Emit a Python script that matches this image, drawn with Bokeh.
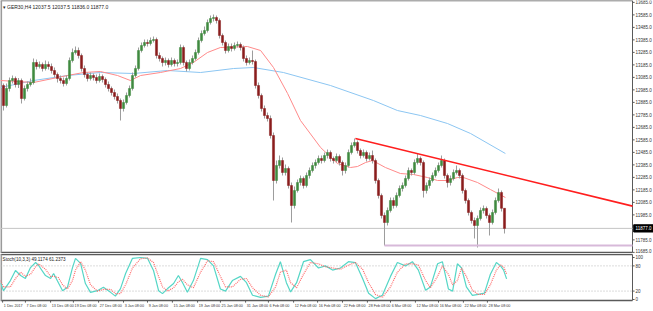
from bokeh.plotting import figure
from bokeh.models import Range1d
from bokeh.layouts import column
from bokeh.core.properties import value
from bokeh.embed import file_html
from bokeh.resources import INLINE

# ---------------- data ----------------
first_open = 13020
close = [12860, 12996, 13060, 13076, 13028, 13060, 12916, 12996, 13028, 13044,
         13204, 13172, 13188, 13156, 13188, 13172, 13140, 13108, 13076, 13060,
         13036, 13076, 13220, 13284, 13300, 13260, 13156, 13108, 13076, 13100,
         13084, 13060, 13092, 13068, 13028, 12996, 12964, 12932, 12900, 12836,
         12884, 12940, 12996, 13100, 13156, 13300, 13340, 13364, 13356, 13380,
         13388, 13260, 13236, 13204, 13220, 13188, 13220, 13196, 13204, 13324,
         13204, 13156, 13204, 13236, 13284, 13380, 13436, 13460, 13524, 13556,
         13564, 13540, 13420, 13364, 13300, 13332, 13316, 13340, 13348, 13324,
         13236, 13204, 13220, 13212, 13020, 12940, 12836, 12780, 12756, 12620,
         12260, 12380, 12420, 12324, 12356, 12220, 12060, 12180, 12244, 12276,
         12220, 12300, 12340, 12380, 12404, 12436, 12420, 12460, 12484, 12436,
         12420, 12452, 12404, 12340, 12380, 12484, 12540, 12564, 12500, 12460,
         12484, 12436, 12460, 12420, 12260, 12140, 11980, 11924, 12020, 12100,
         12060, 12140, 12196, 12220, 12276, 12340, 12324, 12404, 12436, 12404,
         12180, 12220, 12260, 12300, 12340, 12380, 12420, 12300, 12244, 12276,
         12324, 12340, 12300, 12180, 12100, 12004, 11940, 11900, 11956, 12020,
         12036, 11980, 11924, 12004, 12100, 12164, 12037.5, 11877]
high = [13036, 13036, 13084, 13100, 13092, 13080, 13076, 13020, 13052, 13076,
        13236, 13228, 13212, 13204, 13220, 13212, 13196, 13164, 13124, 13100,
        13084, 13100, 13244, 13316, 13332, 13324, 13276, 13180, 13124, 13124,
        13116, 13108, 13116, 13108, 13084, 13052, 13012, 12988, 12956, 12916,
        12908, 12964, 13020, 13124, 13180, 13324, 13364, 13388, 13388, 13404,
        13412, 13404, 13284, 13252, 13244, 13236, 13244, 13236, 13228, 13348,
        13340, 13220, 13228, 13260, 13308, 13404, 13460, 13492, 13548, 13580,
        13588, 13580, 13556, 13436, 13380, 13356, 13356, 13364, 13372, 13364,
        13340, 13260, 13244, 13300, 13228, 13044, 12956, 12860, 12804, 12780,
        12644, 12420, 12460, 12444, 12388, 12372, 12244, 12212, 12268, 12300,
        12292, 12324, 12364, 12404, 12428, 12460, 12460, 12484, 12508, 12500,
        12452, 12476, 12468, 12420, 12404, 12508, 12564, 12596, 12580, 12516,
        12508, 12500, 12484, 12500, 12436, 12276, 12156, 12004, 12044, 12124,
        12124, 12164, 12220, 12244, 12300, 12364, 12356, 12428, 12476, 12452,
        12420, 12244, 12284, 12324, 12364, 12404, 12460, 12436, 12316, 12300,
        12348, 12380, 12356, 12316, 12196, 12116, 12020, 11964, 11980, 12044,
        12060, 12052, 11996, 12028, 12124, 12196, 12180, 12037.5]
low = [12820, 12844, 12972, 13036, 13004, 13000, 12876, 12900, 12972, 13012,
       13028, 13148, 13156, 13132, 13140, 13148, 13116, 13084, 13044, 13036,
       13012, 13020, 13060, 13204, 13268, 13236, 13132, 13084, 13052, 13060,
       13060, 13036, 13044, 13044, 13004, 12972, 12940, 12908, 12876, 12740,
       12812, 12868, 12924, 12980, 13084, 13140, 13284, 13324, 13332, 13340,
       13364, 13236, 13212, 13172, 13180, 13164, 13172, 13172, 13172, 13188,
       13180, 13132, 13140, 13188, 13220, 13268, 13364, 13420, 13444, 13508,
       13532, 13516, 13396, 13340, 13276, 13284, 13292, 13300, 13324, 13300,
       13212, 13180, 13188, 13188, 12996, 12916, 12812, 12756, 12732, 12596,
       12100, 12236, 12356, 12300, 12300, 12196, 11924, 12036, 12164, 12220,
       12196, 12204, 12276, 12324, 12356, 12388, 12396, 12404, 12436, 12412,
       12396, 12404, 12380, 12300, 12316, 12364, 12468, 12524, 12476, 12436,
       12444, 12412, 12420, 12396, 12236, 12116, 11956, 11740, 11900, 12004,
       12036, 12044, 12124, 12172, 12204, 12260, 12300, 12308, 12388, 12380,
       12124, 12156, 12196, 12244, 12284, 12324, 12364, 12276, 12204, 12220,
       12260, 12308, 12276, 12156, 12076, 11980, 11916, 11796, 11724, 11940,
       11996, 11956, 11820, 11908, 11988, 12084, 12012, 11836]

red_ma_x = [-1, 10, 21.3, 26.7, 32.3, 38, 42.3, 45.7, 52.3, 59, 63.3, 68, 72.3, 81.3, 85.7, 90,
            94.7, 99, 105.7, 111.3, 115.7, 118, 120.7, 123, 127.3, 132.3, 136.7, 141.3, 144.7,
            148, 151.3, 153.3, 158, 162.3, 167.3]
red_ma_y = [13060, 13044, 13100, 13124, 13132, 13100, 13060, 13100, 13124, 13156, 13204, 13284,
            13324, 13332, 13300, 13164, 12956, 12740, 12524, 12396, 12364, 12372, 12404, 12420,
            12364, 12316, 12308, 12284, 12260, 12260, 12284, 12284, 12244, 12188, 12124]
blue_ma_x = [-1, 10, 21.3, 32.3, 43.3, 54.7, 65.7, 76.7, 83.3, 93.3, 109, 123.3, 131.3, 139,
             148, 155.7, 167.3]
blue_ma_y = [13004, 13060, 13100, 13124, 13116, 13140, 13124, 13156, 13164, 13124, 13020,
             12900, 12820, 12780, 12716, 12636, 12476]

trend_x = [117.3, 209.7]
trend_y = [12596, 12055]
support_x = [127, 209.7]
support_y = [11740, 11740]
last_price = 11877
last_price_text = "11877.0"

stoch_x = [-1, 0, 2.3, 4, 5.7, 7.3, 9, 10.7, 11.7, 14, 15.7, 16.7, 18.3, 19.7, 21.3, 23, 24,
           25.7, 27.3, 29, 31.3, 33.3, 35.7, 37.3, 39, 40.7, 43, 45.7, 48, 50, 51.7, 53, 54.7,
           56.7, 58.3, 59.7, 61.3, 63.3, 65.7, 68, 70, 72.3, 74, 76.3, 79, 81, 83, 85.7, 88.3,
           90.7, 92.3, 94.3, 95.7, 97.7, 100, 102.3, 105, 107.3, 109.7, 112.3, 115, 117.3,
           119.7, 121.7, 124, 126.3, 129, 131.3, 134, 136.3, 138.3, 140.7, 142.3, 144.7,
           146.3, 148.3, 149.7, 151.3, 152.7, 154.3, 156.3, 158.3, 160.3, 162.3, 164.3,
           165.7, 166.7, 167.7]
stoch_k = [40, 21, 45, 69, 57, 50, 76, 88, 81, 57, 50, 62, 40, 21, 29, 76, 98, 86, 38, 17,
           21, 29, 17, 8, 26, 62, 98, 100, 98, 69, 21, 14, 26, 38, 57, 40, 17, 45, 98, 95,
           80, 25, 20, 45, 55, 40, 10, 5, 8, 60, 90, 40, 18, 40, 90, 95, 75, 80, 70, 75,
           90, 88, 50, 15, 2, 10, 55, 88, 80, 90, 70, 22, 30, 85, 90, 25, 20, 85, 75, 30,
           10, 12, 15, 60, 88, 80, 70, 49]
stoch_d = [45, 30, 30, 50, 65, 55, 60, 78, 85, 72, 55, 55, 52, 35, 25, 45, 70, 90, 70, 35,
           20, 24, 24, 14, 14, 35, 75, 97, 99, 88, 55, 30, 20, 28, 42, 48, 35, 28, 65, 92,
           90, 55, 30, 30, 48, 50, 28, 10, 6, 30, 65, 70, 40, 28, 60, 88, 85, 78, 75, 72,
           82, 88, 72, 40, 12, 5, 30, 65, 85, 85, 82, 45, 28, 55, 80, 60, 35, 45, 75, 55,
           22, 12, 12, 35, 70, 82, 78, 61]
stoch_levels = [20, 80]
stoch_ticks = [0, 20, 80, 100]
stoch_tick_labels = ["0", "20", "80", "100"]

price_ticks = [13685, 13585, 13485, 13385, 13285, 13185, 13085, 12985, 12885, 12785, 12685,
               12585, 12485, 12385, 12285, 12185, 12085, 11985, 11785, 11685]
x_tick_pos = [-0.3, 7.3, 15.7, 23.3, 31.7, 40, 48, 56.3, 64.7, 72.3, 80.7, 88.3, 96.7, 104.7,
              113, 121.3, 129, 137.3, 145, 153.3, 161.3]
x_tick_labels = ["1 Dec 2017", "7 Dec 08:00", "13 Dec 08:00", "19 Dec 08:00", "27 Dec 08:00",
                 "3 Jan 08:00", "9 Jan 08:00", "15 Jan 08:00", "19 Jan 08:00", "25 Jan 08:00",
                 "31 Jan 08:00", "6 Feb 08:00", "12 Feb 08:00", "16 Feb 08:00", "22 Feb 08:00",
                 "28 Feb 08:00", "6 Mar 08:00", "12 Mar 08:00", "16 Mar 08:00", "22 Mar 08:00",
                 "28 Mar 08:00"]
title_text = "\u25BE GER30,H4  12037.5 12037.5 11836.0 11877.0"
stoch_text = "Stoch(10,3,3) 49.1174 61.2373"

# ---------------- layout constants (index / value units) ----------------
X_LEFT, X_RIGHT = -1, 216.67          # whole window width (3 px per bar)
X_AXIS = 209.67                        # price-scale line
P_TOP, P_BOT = 13700, 11676            # main panel vertical range
P_FRAME_BOT = 11684
LABEL_MIN = 11700                      # keep the lowest scale label inside the panel
S_TOP, S_BOT = 109.5, -28.6            # stochastic figure vertical range
S_FRAME_TOP, S_FRAME_BOT = 107.1, -2.4

FONT = value("Liberation Sans")
FS_PRICE = value("4.5px")
FS_TIME = value("3.7px")
FS_TITLE = value("5px")
FS_STOCH = value("4.6px")
TXT = "#333333"
EDGE = "#5a5a5a"

opens = [first_open] + close[:-1]
idx = list(range(len(close)))
body_top = [max(o, c) for o, c in zip(opens, close)]
body_bot = [min(o, c) for o, c in zip(opens, close)]
body_col = ["#3f8a3f" if c >= o else "#8a1c1c" for o, c in zip(opens, close)]

x_rng = Range1d(X_LEFT, X_RIGHT)

# ---------------- main panel ----------------
p1 = figure(frame_width=653, frame_height=253, x_range=x_rng,
            y_range=Range1d(P_BOT, P_TOP), toolbar_location=None, output_backend="svg",
            x_axis_location=None, y_axis_location=None,
            min_border_left=0, min_border_right=0, min_border_top=0, min_border_bottom=0)
p1.grid.visible = False
p1.outline_line_color = None

p1.segment(x0=[X_LEFT, X_LEFT], y0=[P_TOP, P_FRAME_BOT], x1=[X_AXIS, X_AXIS],
           y1=[P_TOP, P_FRAME_BOT], line_color=EDGE, line_width=1.5)
p1.segment(x0=[X_LEFT + 0.2], y0=[P_TOP], x1=[X_LEFT + 0.2], y1=[P_FRAME_BOT],
           line_color="#9a9a9a", line_width=2)
p1.segment(x0=[X_AXIS], y0=[P_TOP], x1=[X_AXIS], y1=[P_FRAME_BOT], line_color=EDGE,
           line_width=1)

p1.segment(x0=[X_LEFT], y0=[last_price], x1=[X_AXIS], y1=[last_price],
           line_color="#c4c4c4", line_width=1)
p1.line(blue_ma_x, blue_ma_y, line_color="#8cc6f2", line_width=1)
p1.line(red_ma_x, red_ma_y, line_color="#ff8a8a", line_width=1)
p1.segment(x0=idx, y0=high, x1=idx, y1=low, line_color="#9c9c9c", line_width=1)
p1.vbar(x=idx, width=0.7, top=body_top, bottom=body_bot, fill_color=body_col,
        line_color=body_col, line_width=0.5)
p1.line(support_x, support_y, line_color="#d7b9d9", line_width=2)
p1.line(trend_x, trend_y, line_color="#ff1e1e", line_width=1.6)

# price scale
p1.segment(x0=[X_AXIS] * len(price_ticks), y0=price_ticks,
           x1=[X_AXIS + 0.7] * len(price_ticks), y1=price_ticks, line_color=EDGE, line_width=1)
p1.text(x=[X_AXIS + 1.0] * len(price_ticks), y=[max(t, LABEL_MIN) for t in price_ticks],
        text=[f"{t:.1f}" for t in price_ticks], text_font=FONT, text_font_size=FS_PRICE,
        text_color=TXT, text_baseline="middle", text_align="left")
p1.rect(x=[(X_AXIS + 0.4 + X_RIGHT) / 2], y=[last_price], width=[X_RIGHT - X_AXIS - 0.4],
        height=[58], fill_color="black", line_color="black")
p1.text(x=[X_AXIS + 1.0], y=[last_price], text=[last_price_text], text_font=FONT,
        text_font_size=FS_PRICE, text_color="white", text_baseline="middle",
        text_align="left")
p1.text(x=[-0.3], y=[13652], text=[title_text], text_font=FONT, text_font_size=FS_TITLE,
        text_color="#222222", text_baseline="middle", text_align="left")

# ---------------- stochastic panel ----------------
p2 = figure(frame_width=653, frame_height=58, x_range=x_rng, y_range=Range1d(S_BOT, S_TOP),
            toolbar_location=None, output_backend="svg", x_axis_location=None,
            y_axis_location=None, min_border_left=0, min_border_right=0, min_border_top=0,
            min_border_bottom=0)
p2.grid.visible = False
p2.outline_line_color = None

p2.segment(x0=[X_LEFT, X_LEFT], y0=[S_FRAME_TOP, S_FRAME_BOT], x1=[X_AXIS, X_AXIS],
           y1=[S_FRAME_TOP, S_FRAME_BOT], line_color=EDGE, line_width=1.5)
p2.segment(x0=[X_LEFT + 0.2], y0=[S_FRAME_TOP], x1=[X_LEFT + 0.2], y1=[S_FRAME_BOT],
           line_color="#9a9a9a", line_width=2)
p2.segment(x0=[X_AXIS], y0=[S_FRAME_TOP], x1=[X_AXIS], y1=[S_FRAME_BOT], line_color=EDGE,
           line_width=1)
for lv in stoch_levels:
    p2.segment(x0=[X_LEFT], y0=[lv], x1=[X_AXIS], y1=[lv], line_color="#b8b8b8",
               line_dash="1 2", line_width=1)
p2.line(stoch_x, stoch_k, line_color="#55d6c6", line_width=1.2)
p2.line(stoch_x, stoch_d, line_color="#ff6a6a", line_width=1.2, line_dash="1 1")
p2.text(x=[-0.3], y=[95], text=[stoch_text], text_font=FONT, text_font_size=FS_STOCH,
        text_color="#222222", text_baseline="middle", text_align="left")

p2.segment(x0=[X_AXIS] * len(stoch_ticks), y0=stoch_ticks,
           x1=[X_AXIS + 0.7] * len(stoch_ticks), y1=stoch_ticks, line_color=EDGE, line_width=1)
p2.text(x=[X_AXIS + 1.0] * len(stoch_ticks), y=stoch_ticks, text=stoch_tick_labels,
        text_font=FONT, text_font_size=FS_PRICE, text_color=TXT, text_baseline="middle",
        text_align="left")

# time scale
p2.segment(x0=x_tick_pos, y0=[S_FRAME_BOT] * len(x_tick_pos), x1=x_tick_pos,
           y1=[S_FRAME_BOT - 5] * len(x_tick_pos), line_color=EDGE, line_width=1)
p2.text(x=[t + 0.4 for t in x_tick_pos], y=[S_FRAME_BOT - 12.5] * len(x_tick_pos),
        text=x_tick_labels, text_font=FONT, text_font_size=FS_TIME, text_color=TXT,
        text_baseline="middle", text_align="left")

layout = column(p1, p2, spacing=0)
open("out.html", "w").write(file_html(layout, INLINE))
